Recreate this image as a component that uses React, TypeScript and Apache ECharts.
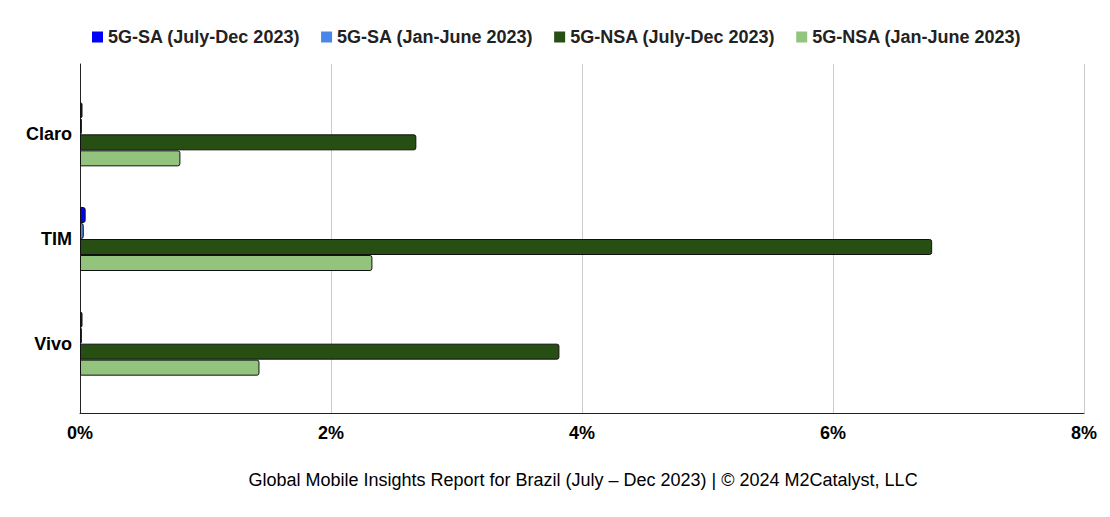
import React, { useEffect, useRef } from "react";
import * as echarts from "echarts";

const categories = ["Claro", "TIM", "Vivo"];
const saJulDec = [0.02, 0.045, 0.02];
const saJanJun = [0.015, 0.03, 0.015];
const nsaJulDec = [2.68, 6.79, 3.82];
const nsaJanJun = [0.8, 2.33, 1.43];
const seriesNames = [
  "5G-SA (July-Dec 2023)",
  "5G-SA (Jan-June 2023)",
  "5G-NSA (July-Dec 2023)",
  "5G-NSA (Jan-June 2023)",
];
const seriesColors = ["#0000ff", "#4a86e8", "#274e13", "#93c47d"];
const footer =
  "Global Mobile Insights Report for Brazil (July \u2013 Dec 2023) | \u00a9 2024 M2Catalyst, LLC";

const FONT = "'Liberation Sans', Arial, sans-serif";

export default function App() {
  const ref = useRef<HTMLDivElement>(null);
  useEffect(() => {
    document.body.style.margin = "0";
    if (!ref.current) return;
    const chart = echarts.init(ref.current, undefined, { renderer: "svg" });
    const values = [saJulDec, saJanJun, nsaJulDec, nsaJanJun];
    chart.setOption({
      animation: false,
      backgroundColor: "#ffffff",
      textStyle: { fontFamily: FONT },
      legend: {
        top: 23,
        left: 87,
        itemWidth: 11,
        itemHeight: 11,
        itemGap: 21,
        icon: "rect",
        itemStyle: { borderWidth: 0 },
        textStyle: {
          fontFamily: FONT,
          fontSize: 18,
          fontWeight: "bold",
          color: "#222",
        },
        data: seriesNames,
      },
      title: {
        text: footer,
        left: 583,
        textAlign: "center",
        top: 471,
        padding: 0,
        textStyle: { fontFamily: FONT, fontSize: 18, fontWeight: "normal", color: "#000" },
      },
      grid: [
        { left: 80, right: 26, top: 64, bottom: 104, containLabel: false },
        { left: 80, right: 26, top: 82, height: 314, containLabel: false },
      ],
      xAxis: [
        {
          gridIndex: 0,
          type: "value",
          min: 0,
          max: 8,
          interval: 2,
          axisLine: { show: true, lineStyle: { color: "#222", width: 1 } },
          axisTick: { show: false },
          splitLine: { show: true, lineStyle: { color: "#cccccc", width: 1 } },
          axisLabel: {
            formatter: "{value}%",
            fontFamily: FONT,
            fontSize: 18,
            fontWeight: "bold",
            color: "#000",
            margin: 11,
          },
        },
        {
          gridIndex: 1,
          type: "value",
          min: 0,
          max: 8,
          interval: 2,
          show: false,
        },
      ],
      yAxis: [
        {
          gridIndex: 0,
          type: "value",
          min: 0,
          max: 1,
          axisLine: { show: true, lineStyle: { color: "#222", width: 1 } },
          axisTick: { show: false },
          axisLabel: { show: false },
          splitLine: { show: false },
        },
        {
          gridIndex: 1,
          type: "category",
          data: categories,
          inverse: true,
          axisLine: { show: false },
          axisTick: { show: false },
          splitLine: { show: false },
          axisLabel: {
            fontFamily: FONT,
            fontSize: 18,
            fontWeight: "bold",
            color: "#000",
            margin: 8,
          },
        },
      ],
      series: seriesNames.map((name, i) => ({
        name,
        type: "bar",
        xAxisIndex: 1,
        yAxisIndex: 1,
        data: values[i],
        barWidth: 16,
        barGap: "0%",
        itemStyle: {
          color: seriesColors[i],
          borderColor: "#111",
          borderWidth: 1,
          borderRadius: [0, 2, 2, 0],
        },
      })),
    });
    return () => chart.dispose();
  }, []);
  return <div ref={ref} style={{ width: 1110, height: 517 }} />;
}
